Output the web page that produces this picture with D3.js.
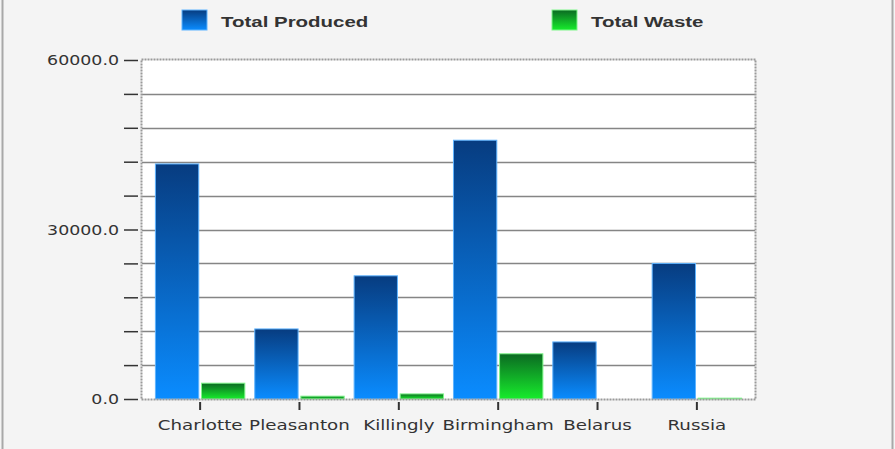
<!DOCTYPE html>
<html>
<head>
<meta charset="utf-8">
<script src="https://cdn.jsdelivr.net/npm/d3@7"></script>
<style>
  html, body { margin: 0; padding: 0; background: #f4f4f4; }
  svg { display: block; }
</style>
</head>
<body>
<script>
// chart data
var categories = ["Charlotte", "Pleasanton", "Killingly", "Birmingham", "Belarus", "Russia"];
var series_names = ["Total Produced", "Total Waste"];
var total_produced = [41600, 12400, 21800, 45800, 10100, 24000];
var total_waste = [2800, 500, 900, 8000, 0, 150];
var y_tick_labels = ["0.0", "30000.0", "60000.0"];

var chartWidth = 895; // svg width
var chartHeight = 449; // svg height
var plot = { left: 142, right: 755, top: 60, bottom: 399 };
var stretch_y = 1.2; // text in the original is drawn a bit wide
var stretch_x = 1.26;
var stretch_legend = 1.32;

var svg = d3.select("body").append("svg")
    .attr("width", chartWidth)
    .attr("height", chartHeight);

// gradients for the bars
var defs = svg.append("defs");
function addGradient(id, top, bottom) {
    var g = defs.append("linearGradient")
        .attr("id", id)
        .attr("x1", 0).attr("y1", 0)
        .attr("x2", 0).attr("y2", 1);
    g.append("stop").attr("offset", "0%").attr("stop-color", top);
    g.append("stop").attr("offset", "100%").attr("stop-color", bottom);
}
addGradient("gradBlue", "#073c80", "#0a8cff");
addGradient("gradGreen", "#0b6a22", "#17ec2c");

// background and outer frame
svg.append("rect")
    .attr("width", chartWidth)
    .attr("height", chartHeight)
    .attr("fill", "#f4f4f4");
svg.append("line")
    .attr("x1", 2.5).attr("x2", 2.5).attr("y1", 0).attr("y2", chartHeight)
    .style("stroke", "#a8a8a8").style("stroke-width", 2);
svg.append("line")
    .attr("x1", 892.5).attr("x2", 892.5).attr("y1", 0).attr("y2", chartHeight)
    .style("stroke", "#a8a8a8").style("stroke-width", 2);

// scales
var x = d3.scaleBand()
    .domain(categories)
    .range([plot.left, plot.right])
    .paddingInner(0.1)
    .paddingOuter(0.135);
var x_inner = d3.scaleBand()
    .domain(series_names)
    .range([0, x.bandwidth()])
    .paddingInner(0.06);
var y = d3.scaleLinear()
    .domain([0, 60000])
    .range([plot.bottom, plot.top]);

// plot background
svg.append("rect")
    .attr("x", plot.left)
    .attr("y", plot.top)
    .attr("width", plot.right - plot.left)
    .attr("height", plot.bottom - plot.top)
    .attr("fill", "#ffffff");

// grid lines
var grid_ticks = d3.range(6000, 60000, 6000);
svg.append("g").selectAll("line")
    .data(grid_ticks)
    .enter()
    .append("line")
    .attr("x1", plot.left)
    .attr("x2", plot.right)
    .attr("y1", function (d) { return Math.round(y(d)) + 0.5 })
    .attr("y2", function (d) { return Math.round(y(d)) + 0.5 })
    .style("stroke", "#858585")
    .style("stroke-width", 1.3);

// bars
var rows = categories.map(function (c, i) {
    return { cat: c, values: [total_produced[i], total_waste[i]] };
});
var groups = svg.append("g").selectAll("g")
    .data(rows)
    .enter()
    .append("g")
    .attr("transform", function (d) { return "translate(" + x(d.cat) + ",0)" });
groups.selectAll("rect")
    .data(function (d) {
        return d.values.map(function (v, j) { return { name: series_names[j], value: v } });
    })
    .enter()
    .filter(function (d) { return d.value > 0 })
    .append("rect")
    .attr("x", function (d) { return x_inner(d.name) })
    .attr("y", function (d) { return y(d.value) })
    .attr("width", x_inner.bandwidth())
    .attr("height", function (d) { return y(0) - y(d.value) })
    .attr("fill", function (d) { return d.name == "Total Produced" ? "url(#gradBlue)" : "url(#gradGreen)" })
    .style("stroke", function (d) { return d.name == "Total Produced" ? "#5fb4ff" : "#7ff58a" })
    .style("stroke-width", 1);

// dotted plot border
svg.append("rect")
    .attr("x", plot.left - 0.5)
    .attr("y", plot.top - 0.5)
    .attr("width", plot.right - plot.left + 1)
    .attr("height", plot.bottom - plot.top + 1)
    .attr("fill", "none")
    .style("stroke", "#9a9a9a")
    .style("stroke-width", 2)
    .style("stroke-dasharray", "2,1");

// y axis
var y_axis = svg.append("g")
    .attr("transform", "translate(" + (plot.left - 4) + ",0)")
    .call(d3.axisLeft(y)
        .tickValues(d3.range(0, 60001, 6000))
        .tickSize(14)
        .tickFormat(function (d) {
            return y_tick_labels.indexOf(d.toFixed(1)) >= 0 ? d.toFixed(1) : "";
        }));
y_axis.select(".domain").remove();
y_axis.selectAll(".tick line").style("stroke", "#333").style("stroke-width", 1.5);
y_axis.selectAll(".tick text")
    .attr("x", -19 / stretch_y)
    .attr("transform", "scale(" + stretch_y + ",1)")
    .style("font-family", "DejaVu Sans, sans-serif")
    .style("font-size", "14.5px")
    .style("fill", "#333");

// x axis
var x_axis = svg.append("g")
    .attr("transform", "translate(0," + (plot.bottom + 3) + ")")
    .call(d3.axisBottom(x).tickSize(8).tickSizeOuter(0));
x_axis.select(".domain").remove();
x_axis.selectAll(".tick line").style("stroke", "#333").style("stroke-width", 2);
x_axis.selectAll(".tick text")
    .attr("y", 18)
    .attr("transform", "scale(" + stretch_x + ",1)")
    .style("font-family", "DejaVu Sans, sans-serif")
    .style("font-size", "14.5px")
    .style("fill", "#333");

// legend
var legend_x = [182, 552];
var legend = svg.append("g").selectAll("g")
    .data(series_names)
    .enter()
    .append("g")
    .attr("transform", function (d, i) { return "translate(" + legend_x[i] + ",10)" });
legend.append("rect")
    .attr("width", 25)
    .attr("height", 20)
    .attr("fill", function (d, i) { return i == 0 ? "url(#gradBlue)" : "url(#gradGreen)" })
    .style("stroke", function (d, i) { return i == 0 ? "#5fb4ff" : "#7ff58a" })
    .style("stroke-width", 1);
legend.append("text")
    .attr("x", 39 / stretch_legend)
    .attr("y", 17)
    .attr("transform", "scale(" + stretch_legend + ",1)")
    .text(function (d) { return d })
    .style("font-family", "Liberation Sans, Arial, sans-serif")
    .style("font-weight", "bold")
    .style("font-size", "15.5px")
    .style("fill", "#333");
</script>
</body>
</html>
